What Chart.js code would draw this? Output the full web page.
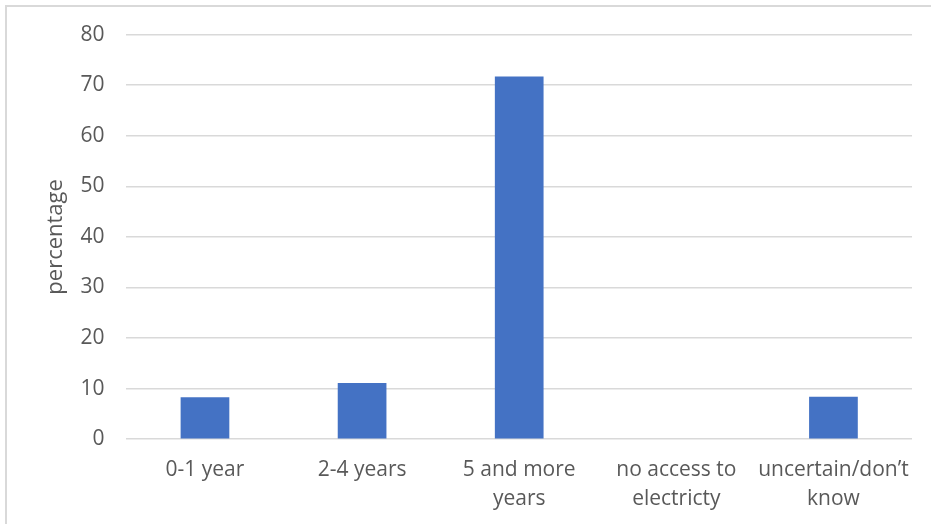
<!DOCTYPE html>
<html>
<head>
<meta charset="utf-8">
<script src="https://cdn.jsdelivr.net/npm/chart.js@4"></script>
<style>
  html, body { margin: 0; padding: 0; background: #fff; overflow: hidden; }
  #frame { position: absolute; left: 5px; top: 5px; width: 960px; height: 560px; border: 2px solid #d9d9d9; }
  #wrap { position: absolute; left: 0; top: 0; width: 931px; height: 524px; }
</style>
</head>
<body>
<div id="frame"></div>
<div id="wrap"><canvas id="barChart"></canvas></div>
<script>
const barChart = document.getElementById('barChart');

const categories = [
    ['0-1 year'],
    ['2-4 years'],
    ['5 and more', 'years'],
    ['no access to', 'electricty'],
    ['uncertain/don\u2019t', 'know']
];
const percentages = [8.3, 11.1, 71.7, 0, 8.4];
const yTicks = [0, 10, 20, 30, 40, 50, 60, 70, 80];

const tickFont = { family: 'Open Sans', size: 21, lineHeight: 1.4 };

const barChart_config = {
    type: 'bar',
    data: {
        labels: categories,
        datasets: [{
            label: 'percentage',
            data: percentages,
            backgroundColor: '#4472C4',
            categoryPercentage: 0.31,
            barPercentage: 1.0
        }]
    },
    options: {
        responsive: true,
        maintainAspectRatio: false,
        animation: false,
        layout: { padding: { top: 23, right: 19, left: 43, bottom: -6 } },
        scales: {
            x: {
                grid: { display: false, drawTicks: false },
                border: { display: false },
                ticks: { color: '#595959', font: tickFont, padding: 16, maxRotation: 0, autoSkip: false }
            },
            y: {
                min: 0,
                max: 80,
                afterBuildTicks: (axis) => { axis.ticks = yTicks.map(v => ({ value: v })); },
                grid: { color: '#d9d9d9', lineWidth: 1.5, drawTicks: false },
                border: { display: false },
                ticks: { color: '#595959', font: { family: 'Open Sans', size: 21 }, padding: 22 },
                title: { display: true, text: 'percentage', color: '#595959', font: { family: 'Open Sans', size: 22 }, padding: { top: 0, bottom: -11 } }
            }
        },
        plugins: {
            legend: { display: false },
            tooltip: { enabled: false }
        }
    }
};

new Chart(barChart, barChart_config);
</script>
</body>
</html>
